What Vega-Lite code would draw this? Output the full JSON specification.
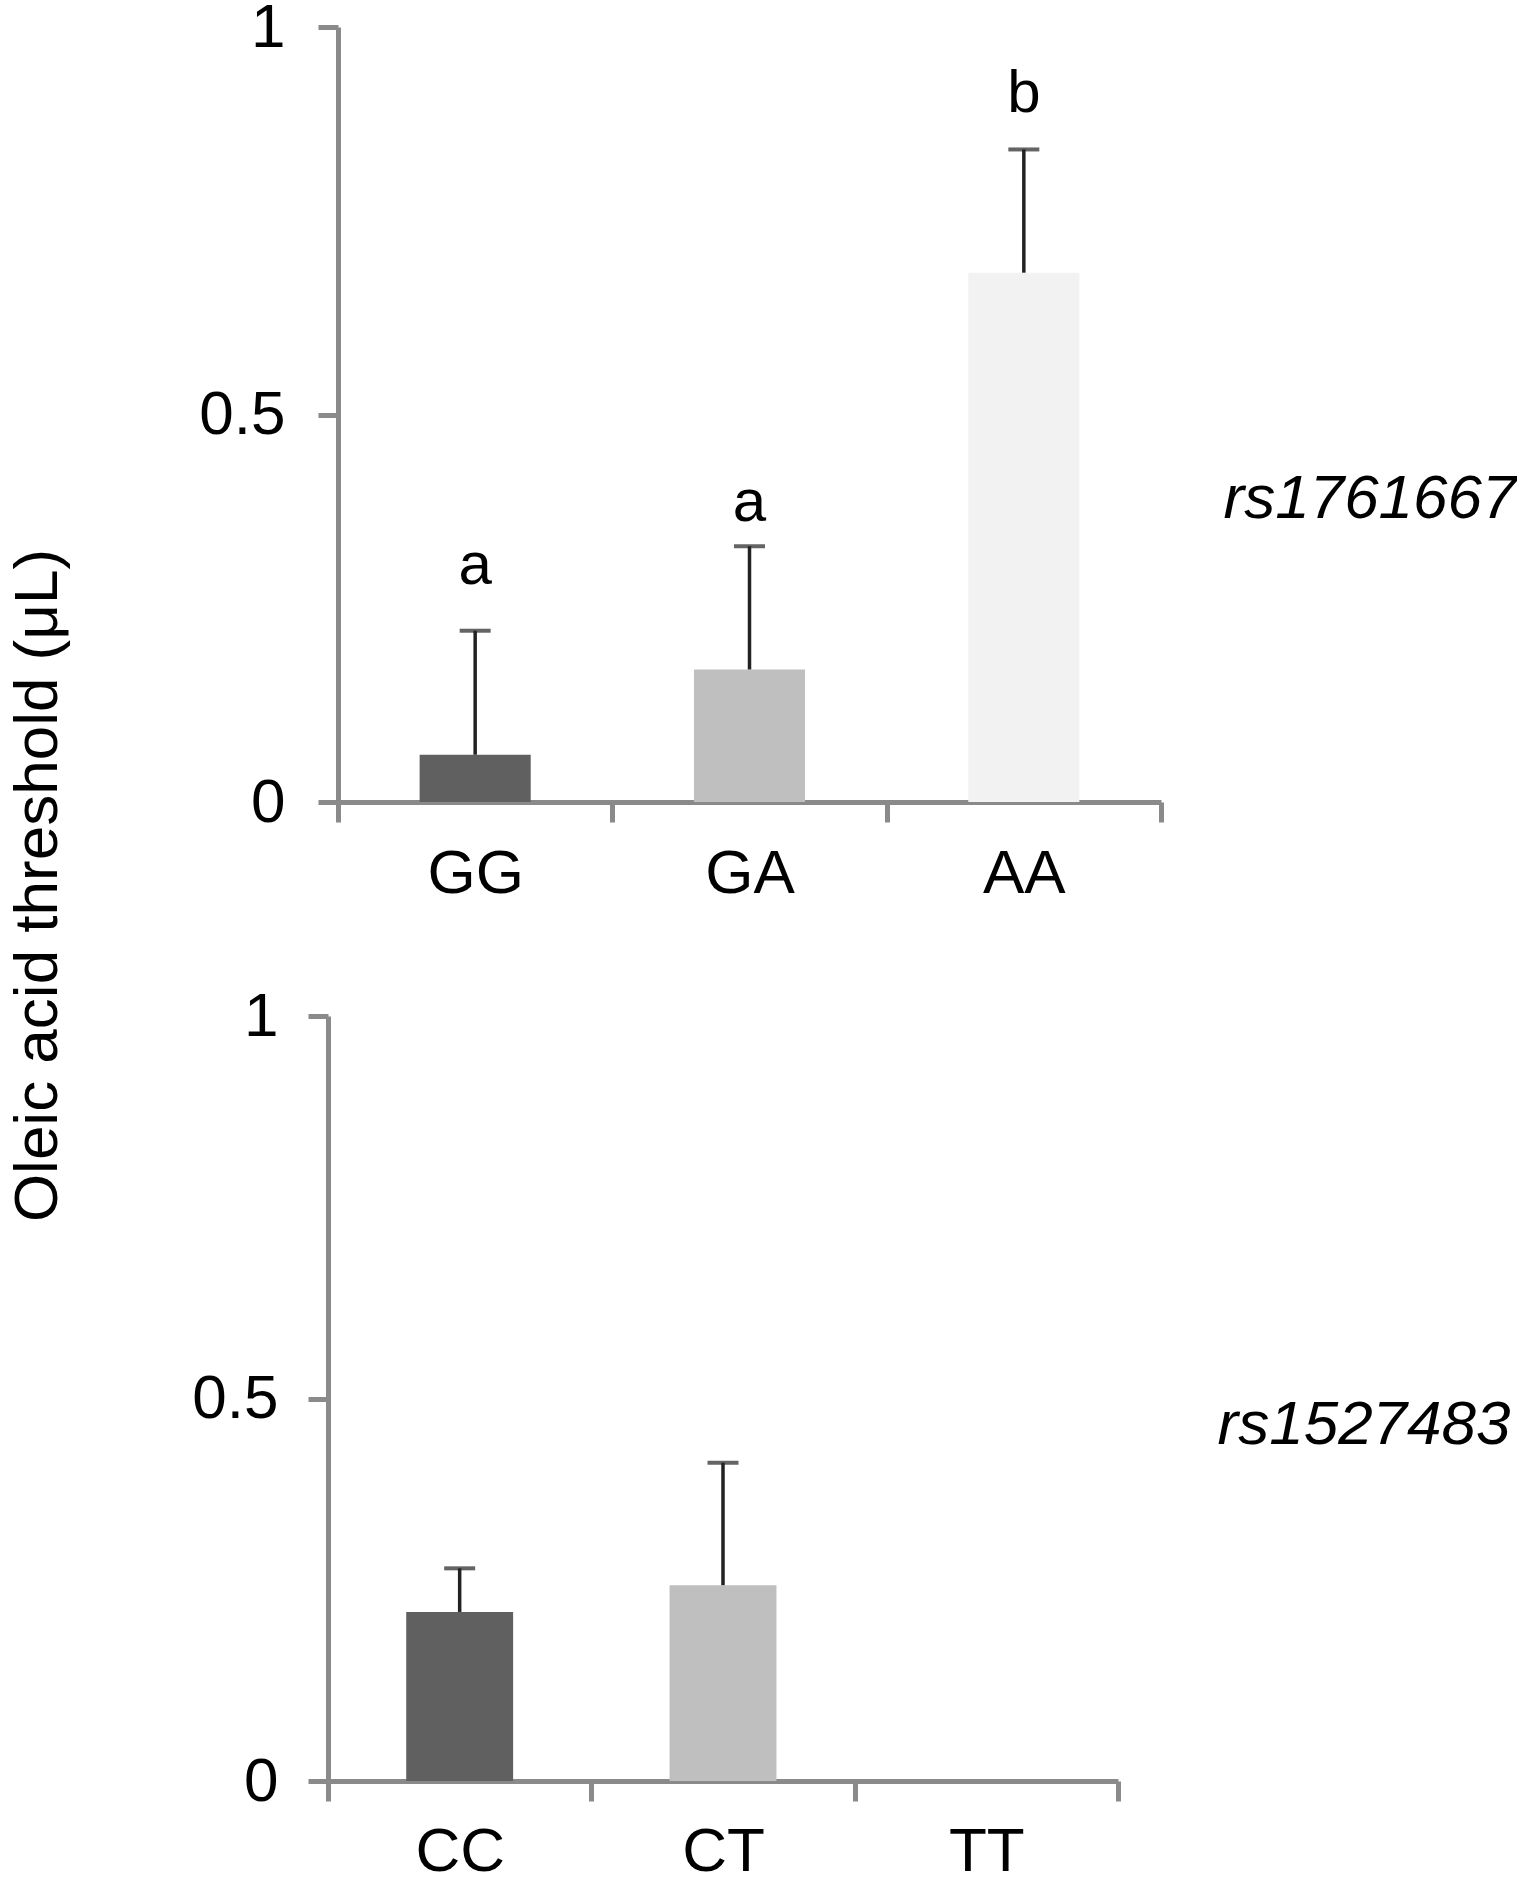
{
  "$schema": "https://vega.github.io/schema/vega-lite/v6.json",
  "background": "white",
  "padding": {"left": 6, "top": -4, "right": 0, "bottom": 0},
  "bounds": "flush",
  "spacing": 214,
  "config": {
    "view": {"stroke": null},
    "font": "Liberation Sans",
    "axis": {
      "grid": false,
      "domainColor": "#8a8a8a",
      "domainWidth": 5,
      "tickColor": "#8a8a8a",
      "tickWidth": 5,
      "tickSize": 20,
      "labelFont": "Liberation Sans",
      "labelFontSize": 62,
      "labelColor": "#000000",
      "titleFont": "Liberation Sans",
      "titleFontSize": 62,
      "titleFontWeight": "normal",
      "titleColor": "#000000"
    }
  },
  "resolve": {"scale": {"x": "independent", "y": "independent", "color": "independent"}},
  "vconcat": [
    {
      "width": 833,
      "height": 775,
      "title": {
        "text": "rs1761667",
        "orient": "right",
        "frame": "group",
        "angle": 0,
        "align": "left",
        "baseline": "middle",
        "anchor": "middle",
        "offset": -233,
        "dy": 84,
        "font": "Liberation Sans",
        "fontSize": 62,
        "fontStyle": "italic",
        "fontWeight": "normal",
        "color": "#000000"
      },
      "data": {
        "values": [
          {"genotype": "GG", "mean": 0.061, "upper": 0.221, "letter": "a", "letter_y": 0.281},
          {"genotype": "GA", "mean": 0.171, "upper": 0.330, "letter": "a", "letter_y": 0.363},
          {"genotype": "AA", "mean": 0.683, "upper": 0.842, "letter": "b", "letter_y": 0.890}
        ]
      },
      "encoding": {
        "x": {
          "field": "genotype",
          "type": "nominal",
          "sort": ["GG", "GA", "AA"],
          "scale": {"domain": ["GG", "GA", "AA"], "range": [10, 833], "paddingInner": 0, "paddingOuter": 0},
          "axis": {"title": null, "labelAngle": 0, "tickBand": "extent", "labelPadding": 21, "labelBaseline": "top"}
        }
      },
      "layer": [
        {
          "mark": {"type": "bar", "width": {"band": 0.405}},
          "encoding": {
            "y": {
              "field": "mean",
              "type": "quantitative",
              "scale": {"domain": [0, 1], "nice": false},
              "axis": {
                "values": [0, 0.5, 1],
                "format": "~g",
                "offset": -10,
                "labelPadding": 33,
                "title": "Oleic acid threshold (μL)",
                "titleAngle": -90,
                "titleAlign": "center",
                "titleBaseline": "alphabetic",
                "titleX": -282,
                "titleY": 858
              }
            },
            "color": {
              "field": "genotype",
              "type": "nominal",
              "scale": {"domain": ["GG", "GA", "AA"], "range": ["#606060", "#bfbfbf", "#f2f2f2"]},
              "legend": null
            }
          }
        },
        {
          "mark": {"type": "rule", "color": "#222222", "strokeWidth": 3.5},
          "encoding": {
            "y": {"field": "mean", "type": "quantitative"},
            "y2": {"field": "upper"}
          }
        },
        {
          "mark": {"type": "tick", "color": "#222222", "size": 31, "thickness": 4},
          "encoding": {
            "y": {"field": "upper", "type": "quantitative"}
          }
        },
        {
          "mark": {"type": "text", "fontSize": 60, "baseline": "alphabetic", "align": "center", "color": "#000000", "font": "Liberation Sans"},
          "encoding": {
            "y": {"field": "letter_y", "type": "quantitative"},
            "text": {"field": "letter"}
          }
        }
      ]
    },
    {
      "width": 790,
      "height": 765,
      "title": {
        "text": "rs1527483",
        "orient": "right",
        "frame": "group",
        "angle": 0,
        "align": "left",
        "baseline": "middle",
        "anchor": "middle",
        "offset": -196,
        "dy": 26,
        "font": "Liberation Sans",
        "fontSize": 62,
        "fontStyle": "italic",
        "fontWeight": "normal",
        "color": "#000000"
      },
      "data": {
        "values": [
          {"genotype": "CC", "mean": 0.221, "upper": 0.278},
          {"genotype": "CT", "mean": 0.256, "upper": 0.416},
          {"genotype": "TT", "mean": null, "upper": null}
        ]
      },
      "encoding": {
        "x": {
          "field": "genotype",
          "type": "nominal",
          "sort": ["CC", "CT", "TT"],
          "scale": {"domain": ["CC", "CT", "TT"], "paddingInner": 0, "paddingOuter": 0},
          "axis": {"title": null, "labelAngle": 0, "tickBand": "extent", "labelPadding": 20, "labelBaseline": "top"}
        }
      },
      "layer": [
        {
          "mark": {"type": "bar", "width": {"band": 0.406}},
          "encoding": {
            "y": {
              "field": "mean",
              "type": "quantitative",
              "scale": {"domain": [0, 1], "nice": false},
              "axis": {"values": [0, 0.5, 1], "format": "~g", "labelPadding": 30, "title": null}
            },
            "color": {
              "field": "genotype",
              "type": "nominal",
              "scale": {"domain": ["CC", "CT", "TT"], "range": ["#606060", "#bfbfbf", "#f2f2f2"]},
              "legend": null
            }
          }
        },
        {
          "mark": {"type": "rule", "color": "#222222", "strokeWidth": 3.5},
          "encoding": {
            "y": {"field": "mean", "type": "quantitative"},
            "y2": {"field": "upper"}
          }
        },
        {
          "mark": {"type": "tick", "color": "#222222", "size": 31, "thickness": 4},
          "encoding": {
            "y": {"field": "upper", "type": "quantitative"}
          }
        }
      ]
    }
  ]
}
